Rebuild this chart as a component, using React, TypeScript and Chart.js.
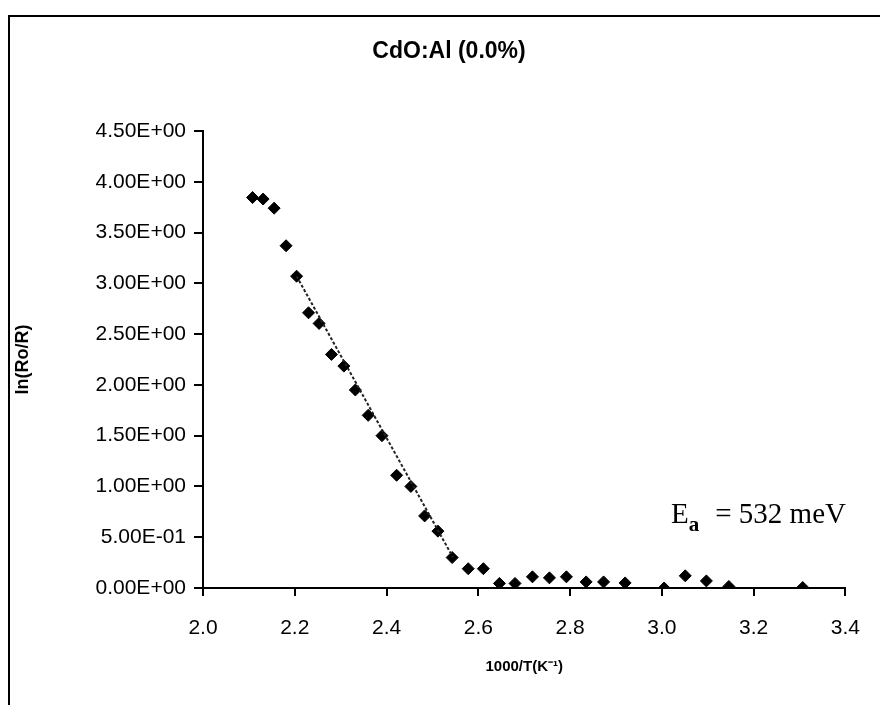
import React, { useEffect, useRef } from 'react';
import { Chart, registerables } from 'chart.js';

Chart.register(...registerables);

// ---- data ----
const chartTitle = 'CdO:Al (0.0%)';
const xAxisTitle = '1000/T(K\u207B\u00B9)';
const yAxisTitle = 'ln(Ro/R)';
const annotationMain = 'E';
const annotationSub = 'a';
const annotationRest = '= 532 meV';
const annotationX = 3.02;
const annotationY = 0.64;

const xValues = [2.108, 2.131, 2.155, 2.181, 2.204, 2.23, 2.253, 2.28, 2.307, 2.332, 2.36, 2.39, 2.422, 2.453, 2.483, 2.512, 2.543, 2.578, 2.611, 2.646, 2.68, 2.718, 2.755, 2.792, 2.835, 2.873, 2.92, 3.005, 3.051, 3.097, 3.146, 3.307];
const yValues = [3.845, 3.83, 3.74, 3.37, 3.07, 2.71, 2.605, 2.3, 2.185, 1.95, 1.7, 1.5, 1.11, 1.0, 0.71, 0.56, 0.3, 0.19, 0.19, 0.045, 0.045, 0.11, 0.1, 0.11, 0.06, 0.06, 0.05, 0.0, 0.12, 0.07, 0.015, 0.005];

const fitX = [2.204, 2.545];
const fitY = [3.07, 0.3];

const xTickValues = [2.0, 2.2, 2.4, 2.6, 2.8, 3.0, 3.2, 3.4];
const xTickLabels = ['2.0', '2.2', '2.4', '2.6', '2.8', '3.0', '3.2', '3.4'];
const yTickValues = [0, 0.5, 1.0, 1.5, 2.0, 2.5, 3.0, 3.5, 4.0, 4.5];
const yTickLabels = ['0.00E+00', '5.00E-01', '1.00E+00', '1.50E+00', '2.00E+00', '2.50E+00', '3.00E+00', '3.50E+00', '4.00E+00', '4.50E+00'];

const W = 880;
const H = 705;
const SANS = '"Liberation Sans", Arial, sans-serif';
const SERIF = '"Liberation Serif", "Times New Roman", serif';

const decorPlugin = {
  id: 'decor',
  beforeDraw(chart: any) {
    const ctx = chart.ctx;
    ctx.save();
    ctx.fillStyle = '#ffffff';
    ctx.fillRect(0, 0, chart.width, chart.height);
    ctx.strokeStyle = '#000';
    ctx.lineWidth = 2;
    ctx.beginPath();
    ctx.moveTo(9, chart.height);
    ctx.lineTo(9, 16);
    ctx.lineTo(chart.width, 16);
    ctx.stroke();
    ctx.restore();
  },
  afterDraw(chart: any) {
    const ctx = chart.ctx;
    ctx.save();
    ctx.fillStyle = '#000';
    ctx.font = 'bold 23px ' + SANS;
    ctx.textAlign = 'center';
    ctx.textBaseline = 'middle';
    ctx.fillText(chartTitle, 449, 52);

    const xs = chart.scales.x;
    const ys = chart.scales.y;
    let px = xs.getPixelForValue(annotationX);
    const py = ys.getPixelForValue(annotationY);
    ctx.textAlign = 'left';
    ctx.textBaseline = 'alphabetic';
    ctx.font = '29px ' + SERIF;
    ctx.fillText(annotationMain, px, py);
    px += ctx.measureText(annotationMain).width;
    ctx.font = 'bold 21px ' + SERIF;
    ctx.fillText(annotationSub, px, py + 8);
    px += ctx.measureText(annotationSub).width + 16;
    ctx.font = '29px ' + SERIF;
    ctx.fillText(annotationRest, px, py);
    ctx.restore();
  },
};

export default function App() {
  const ref = useRef<HTMLCanvasElement>(null);
  useEffect(() => {
    if (!ref.current) return;
    const chart = new Chart(ref.current, {
      type: 'scatter',
      data: {
        datasets: [
          {
            label: 'fit',
            type: 'line',
            data: fitX.map((x, i) => ({ x, y: fitY[i] })),
            borderColor: '#222',
            borderWidth: 2,
            borderDash: [3, 2],
            pointRadius: 0,
            fill: false,
          } as any,
          {
            label: 'data',
            data: xValues.map((x, i) => ({ x, y: yValues[i] })),
            pointStyle: 'rectRot',
            pointRadius: 6,
            backgroundColor: '#000',
            borderColor: '#000',
            borderWidth: 1,
          },
        ],
      },
      options: {
        responsive: false,
        animation: false,
        devicePixelRatio: 1,
        layout: { padding: { top: 131, right: 26, left: 0, bottom: 0 } },
        plugins: { legend: { display: false }, title: { display: false }, tooltip: { enabled: false } },
        scales: {
          x: {
            type: 'linear',
            min: 2.0,
            max: 3.4,
            afterBuildTicks: (s: any) => { s.ticks = xTickValues.map((v) => ({ value: v })); },
            afterFit: (s: any) => { s.height = H - 588; },
            ticks: {
              color: '#000',
              font: { family: SANS, size: 21 },
              padding: 20,
              maxRotation: 0,
              callback: (v: any) => { const i = xTickValues.findIndex((t) => Math.abs(t - v) < 1e-6); return i >= 0 ? xTickLabels[i] : ''; },
            },
            grid: { display: true, drawOnChartArea: false, drawTicks: true, tickLength: 8, color: '#000', lineWidth: 2 },
            border: { display: true, color: '#000', width: 2 },
            title: { display: true, text: xAxisTitle, color: '#000', font: { family: SANS, size: 15, weight: 'bold' }, padding: { top: 29, bottom: 29 } },
          },
          y: {
            type: 'linear',
            min: 0,
            max: 4.5,
            afterBuildTicks: (s: any) => { s.ticks = yTickValues.map((v) => ({ value: v })); },
            afterFit: (s: any) => { s.width = 203; },
            ticks: {
              color: '#000',
              font: { family: SANS, size: 21 },
              padding: 8,
              callback: (v: any) => { const i = yTickValues.findIndex((t) => Math.abs(t - v) < 1e-6); return i >= 0 ? yTickLabels[i] : ''; },
            },
            grid: { display: true, drawOnChartArea: false, drawTicks: true, tickLength: 9, color: '#000', lineWidth: 2 },
            border: { display: true, color: '#000', width: 2 },
            title: { display: true, text: yAxisTitle, color: '#000', font: { family: SANS, size: 18, weight: 'bold' }, padding: { top: 12, bottom: 12 } },
          },
        },
      },
      plugins: [decorPlugin],
    });
    return () => chart.destroy();
  }, []);
  return (
    <div style={{ position: 'fixed', left: 0, top: 0, width: W, height: H, overflow: 'hidden' }}>
      <canvas ref={ref} width={W} height={H} style={{ display: 'block', width: W, height: H }} />
    </div>
  );
}
